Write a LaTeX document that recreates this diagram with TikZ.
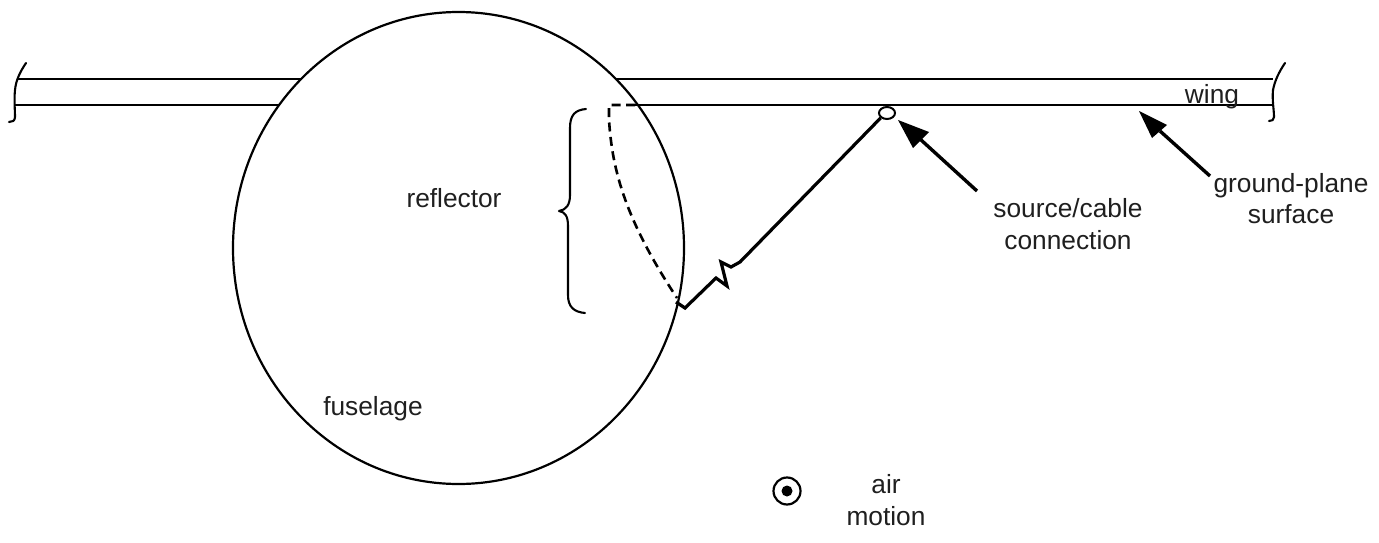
\documentclass[tikz,border=0pt]{standalone}
\usepackage{fontspec}
\setmainfont{Liberation Sans}
\usetikzlibrary{shapes.geometric}
\tikzset{
 x=1pt,y=-1pt,
 lbl/.style={inner sep=0pt,font=\fontsize{26.3}{31.5}\selectfont,align=center,text=black!88},
 wingline/.style={line width=2.6pt},
 thinwing/.style={line width=2.1pt},
 hand/.style={line width=2.1pt,line cap=round,line join=round},
 wire/.style={line width=3.2pt,line join=miter},
 pointer/.style={line width=3.4pt},
 pointerhead/.style={fill=black,draw=none},
}
\begin{document}
\begin{tikzpicture}
\useasboundingbox (0,0) rectangle (1379,543);
% fuselage
\node[draw,ellipse,line width=2.2pt,minimum width=451pt,minimum height=472pt,inner sep=0pt] (fus) at (458.5,248) {};
% wing
\coordinate (tl) at (17,79); \coordinate (tlr) at (301,79);
\coordinate (tr) at (616,79); \coordinate (trr) at (1273,79);
\coordinate (bl) at (15,105); \coordinate (blr) at (279,105);
\coordinate (dl) at (609,105); \coordinate (br) at (635,105); \coordinate (brr) at (1272,105);
\draw[wingline] (tl) -- (tlr);
\draw[wingline] (tr) -- (trr);
\draw[thinwing] (bl) -- (blr);
\draw[thinwing] (br) -- (brr);
\draw[hand] (26,63) .. controls (20,72) and (16,80) .. (15,90) .. controls (14,100) and (15,110) .. (15,117) .. controls (15,121) and (12,122) .. (9,122);
\draw[hand] (1285,63) .. controls (1279,72) and (1275,80) .. (1273,90) .. controls (1272,100) and (1274,110) .. (1274,117) .. controls (1274,120) and (1272,121) .. (1269,121);
% brace
\draw[hand] (586,109) .. controls (575,110) and (570,115) .. (570,128) -- (570,195) .. controls (570,205) and (566,210) .. (559,211) .. controls (565,212) and (568,216) .. (568,226) -- (568,295) .. controls (568,307) and (574,312) .. (585,313);
% dashed reflector
\draw[line width=2.6pt,dash pattern=on 9pt off 5.5pt] (br) -- (dl) -- (609,120) .. controls (612,165) and (622,215) .. (677,298);
% feed wire
\node[draw,ellipse,line width=2pt,minimum width=16pt,minimum height=12pt,inner sep=0pt] (src) at (887,113) {};
\coordinate (w0) at (676,302);
\draw[wire] (w0) -- (685,308) -- (716,278) -- (727,286) -- (721,262) -- (731,267) -- (740,262) -- (src.south west);
% labels
\node[lbl,anchor=base] (refl) at (454,207) {reflector};
\node[lbl,anchor=base] (fusl) at (373,415) {fuselage};
\node[lbl,anchor=base] (wing) at (1212,103) {wing};
\node[lbl] (srcl) at (1068,224) {source/cable\\connection};
\node[lbl] (gnd) at (1291,198.5) {ground-plane\\surface};
\node[lbl] (air) at (886,500) {air\\motion};
% pointers
\coordinate (a1) at (898,120); \coordinate (a1t) at (977,191);
\coordinate (a2) at (1139,111); \coordinate (a2t) at (1210,176);
\draw[pointer] (a1t) -- (920,139);
\fill[pointerhead] (a1) -- (929,132) -- (913,148) -- cycle;
\draw[pointer] (a2t) -- (1160,131);
\fill[pointerhead] (a2) -- (1167,125) -- (1152,138) -- cycle;
% air motion symbol
\node[draw,circle,line width=2.2pt,minimum size=27pt,inner sep=0pt] (sym) at (787,491) {};
\fill (sym.center) circle (5.5pt);
\end{tikzpicture}
\end{document}
